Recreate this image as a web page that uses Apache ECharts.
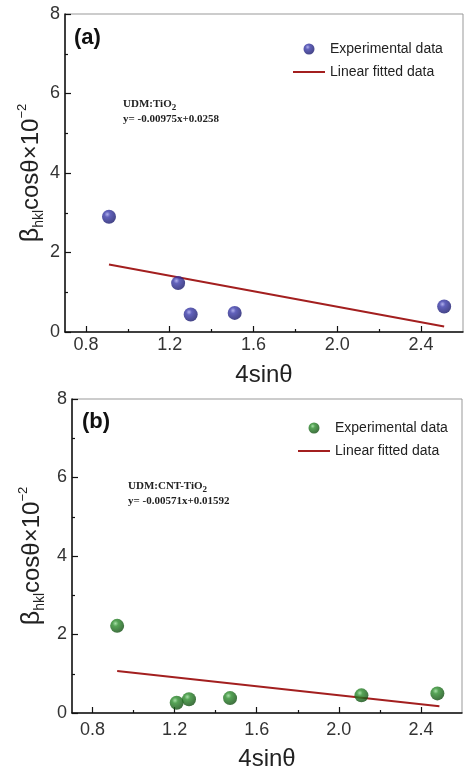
<!DOCTYPE html>
<html>
<head>
<meta charset="utf-8">
<style>
  html, body { margin: 0; padding: 0; background: #fff; }
  #chart { width: 464px; height: 767px; }
</style>
<script src="https://cdn.jsdelivr.net/npm/echarts@6/dist/echarts.min.js"></script>
</head>
<body>
<div id="chart"></div>
<script>
  // panel (a) UDM:TiO2
  var expXA = [0.91, 1.24, 1.30, 1.51, 2.51];
  var expYA = [2.90, 1.23, 0.44, 0.48, 0.64];
  var fitXA = [0.91, 2.51];
  var fitYA = [1.70, 0.14];

  // panel (b) UDM:CNT-TiO2
  var expXB = [0.92, 1.21, 1.27, 1.47, 2.11, 2.48];
  var expYB = [2.22, 0.26, 0.35, 0.38, 0.45, 0.50];
  var fitXB = [0.92, 2.49];
  var fitYB = [1.07, 0.17];

  var xMajor = [0.8, 1.2, 1.6, 2.0, 2.4];
  var xMinor = [1.0, 1.4, 1.8, 2.2];

  var font = 'Liberation Sans, Arial, sans-serif';
  var ink = '#222';
  var fitColor = '#a31f1f';

  function pairs(xs, ys) {
    return xs.map(function(x, i) { return [x, ys[i]]; });
  }

  function ball(c0, c1, c2) {
    return {
      type: 'radial', x: 0.38, y: 0.33, r: 0.68,
      colorStops: [
        { offset: 0, color: c0 },
        { offset: 0.3, color: c1 },
        { offset: 1, color: c2 }
      ]
    };
  }

  var blue = ball('#9c9ce8', '#3a3aaa', '#17176a');
  var green = ball('#90d690', '#2b8c2b', '#0f4c0f');

  function mainX(grid, gap, margin) {
    return {
      type: 'value', gridIndex: grid, min: 0.7, max: 2.6,
      name: '4sinθ', nameLocation: 'middle', nameGap: gap, nameMoveOverlap: false,
      nameTextStyle: { fontFamily: font, fontSize: 24, color: ink },
      axisLine: { show: true, onZero: false, lineStyle: { color: '#111', width: 1.5 } },
      axisTick: { show: true, inside: true, length: 6, customValues: xMajor, lineStyle: { color: '#111', width: 1.2 } },
      axisLabel: { customValues: xMajor, margin: margin, fontFamily: font, fontSize: 18, color: '#333',
        formatter: function(v) { return v.toFixed(1); } },
      splitLine: { show: false }
    };
  }

  function minorX(grid) {
    return {
      type: 'value', gridIndex: grid, min: 0.7, max: 2.6, position: 'bottom',
      axisLine: { show: false },
      axisTick: { show: true, inside: true, length: 3, customValues: xMinor, lineStyle: { color: '#111', width: 1.2 } },
      axisLabel: { show: false },
      splitLine: { show: false }
    };
  }

  function mainY(grid, gap) {
    return {
      type: 'value', gridIndex: grid, min: 0, max: 8, interval: 2,
      name: '{g|β}{s|hkl}{m|cosθ×10}{p|−2}',
      nameLocation: 'middle', nameRotate: 90, nameGap: gap, nameMoveOverlap: false,
      nameTextStyle: {
        fontFamily: font, color: ink,
        rich: {
          g: { fontFamily: font, fontSize: 25, lineHeight: 30, color: ink },
          s: { fontFamily: font, fontSize: 14, lineHeight: 14, verticalAlign: 'bottom', color: ink },
          m: { fontFamily: font, fontSize: 24, lineHeight: 30, color: ink },
          p: { fontFamily: font, fontSize: 13, lineHeight: 13, verticalAlign: 'top', color: ink }
        }
      },
      axisLine: { show: true, onZero: false, lineStyle: { color: '#111', width: 1.5 } },
      axisTick: { show: true, inside: true, length: 6, lineStyle: { color: '#111', width: 1.2 } },
      minorTick: { show: true, splitNumber: 2, length: 3, lineStyle: { color: '#111', width: 1.2 } },
      axisLabel: { margin: 5, fontFamily: font, fontSize: 18, color: '#333' },
      splitLine: { show: false }
    };
  }

  function legend(left, top, tag) {
    return {
      orient: 'vertical', left: left, top: top, padding: 0,
      itemWidth: 32, itemHeight: 11, itemGap: 9,
      data: [
        { name: 'Experimental data ' + tag, icon: 'circle' },
        { name: 'Linear fitted data ' + tag, icon: 'path://M0,0H32V2H0Z' }
      ],
      formatter: function(n) { return n.replace(/ \(.\)$/, ''); },
      textStyle: { fontFamily: font, fontSize: 14, color: ink }
    };
  }

  function note(left, top, title, eq) {
    return {
      type: 'text', left: left, top: top,
      style: {
        text: '{t|' + title + '}{u|2}\n{t|' + eq + '}',
        rich: {
          t: { fontFamily: 'Liberation Serif, Times New Roman, serif', fontWeight: 'bold', fontSize: 11, lineHeight: 15, fill: ink },
          u: { fontFamily: 'Liberation Serif, Times New Roman, serif', fontWeight: 'bold', fontSize: 9, lineHeight: 11, verticalAlign: 'bottom', fill: ink }
        }
      }
    };
  }

  function panelTag(left, top, text) {
    return {
      type: 'text', left: left, top: top,
      style: { text: text, fontFamily: font, fontWeight: 'bold', fontSize: 22, fill: '#111' }
    };
  }

  var chart = echarts.init(document.getElementById('chart'), null, { renderer: 'canvas' });

  chart.setOption({
    animation: false,
    backgroundColor: '#fff',
    grid: [
      { left: 65, top: 14, width: 398, height: 318, show: true, borderColor: '#999', borderWidth: 1, outerBoundsMode: 'none' },
      { left: 72, top: 399, width: 390, height: 314, show: true, borderColor: '#999', borderWidth: 1, outerBoundsMode: 'none' }
    ],
    xAxis: [mainX(0, 31, 4), minorX(0), mainX(1, 34, 8), minorX(1)],
    yAxis: [mainY(0, 19), mainY(1, 25)],
    legend: [legend(293, 42, '(a)'), legend(298, 421, '(b)')],
    graphic: [
      panelTag(74, 27, '(a)'),
      panelTag(82, 411, '(b)'),
      note(123, 99, 'UDM:TiO', 'y= -0.00975x+0.0258'),
      note(128, 481, 'UDM:CNT-TiO', 'y= -0.00571x+0.01592')
    ],
    series: [
      {
        name: 'Experimental data (a)', type: 'scatter', xAxisIndex: 0, yAxisIndex: 0,
        symbolSize: 14, itemStyle: { color: blue }, data: pairs(expXA, expYA), z: 3
      },
      {
        name: 'Linear fitted data (a)', type: 'line', xAxisIndex: 0, yAxisIndex: 0,
        symbol: 'none', lineStyle: { color: fitColor, width: 2 }, itemStyle: { color: fitColor },
        data: pairs(fitXA, fitYA), z: 2
      },
      {
        name: 'Experimental data (b)', type: 'scatter', xAxisIndex: 2, yAxisIndex: 1,
        symbolSize: 14, itemStyle: { color: green }, data: pairs(expXB, expYB), z: 3
      },
      {
        name: 'Linear fitted data (b)', type: 'line', xAxisIndex: 2, yAxisIndex: 1,
        symbol: 'none', lineStyle: { color: fitColor, width: 2 }, itemStyle: { color: fitColor },
        data: pairs(fitXB, fitYB), z: 2
      }
    ]
  });
</script>
</body>
</html>
